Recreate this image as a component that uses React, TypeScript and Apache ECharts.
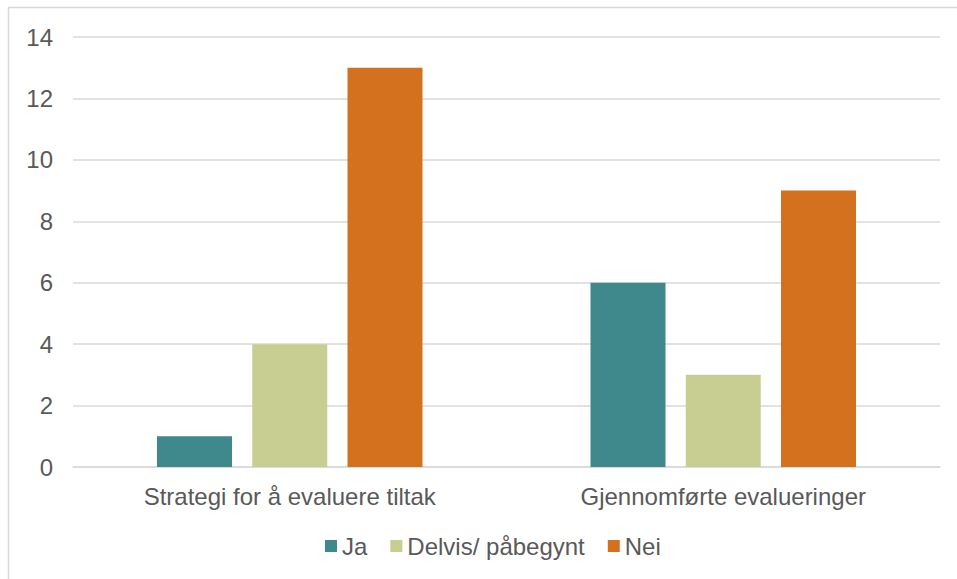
import React, { useEffect, useRef } from "react";
import * as echarts from "echarts";

const categories = ["Strategi for å evaluere tiltak", "Gjennomførte evalueringer"];
const seriesNames = ["Ja", "Delvis/ påbegynt", "Nei"];
const jaValues = [1, 6];
const delvisValues = [4, 3];
const neiValues = [13, 9];
const colors = ["#3F898C", "#C8CE91", "#D4711E"];

export default function App() {
  const ref = useRef<HTMLDivElement>(null);

  useEffect(() => {
    if (!ref.current) return;
    const chart = echarts.init(ref.current, null, { renderer: "svg" });
    const font = "'Liberation Sans', Arial, sans-serif";
    const values = [jaValues, delvisValues, neiValues];
    chart.setOption({
      animation: false,
      backgroundColor: "#ffffff",
      textStyle: { fontFamily: font },
      graphic: [
        {
          type: "rect",
          shape: { x: 8.5, y: 7.5, width: 980, height: 620 },
          style: { fill: "none", stroke: "#D9D9D9", lineWidth: 1.5 },
          silent: true,
        },
      ],
      grid: { left: 73, right: 17, top: 37, bottom: 112 },
      legend: {
        bottom: 16,
        left: 320,
        itemWidth: 12,
        itemHeight: 12,
        itemGap: 23,
        icon: "rect",
        textStyle: { fontSize: 24, color: "#595959", fontFamily: font },
        data: seriesNames,
      },
      xAxis: {
        type: "category",
        data: categories,
        axisLine: { show: true, lineStyle: { color: "#D9D9D9", width: 1.5 } },
        axisTick: { show: false },
        axisLabel: { fontSize: 24, color: "#595959", margin: 17, fontFamily: font },
      },
      yAxis: {
        type: "value",
        min: 0,
        max: 14,
        interval: 2,
        axisLine: { show: false },
        axisTick: { show: false },
        splitLine: { lineStyle: { color: "#D9D9D9", width: 1.5 } },
        axisLabel: { fontSize: 24, color: "#595959", margin: 20, fontFamily: font },
      },
      series: seriesNames.map((name, i) => ({
        name,
        type: "bar",
        data: values[i],
        barWidth: 75,
        barGap: "27%",
        itemStyle: { color: colors[i] },
      })),
    });
    return () => chart.dispose();
  }, []);

  return (
    <div
      ref={ref}
      style={{ position: "absolute", left: 0, top: 0, width: 957, height: 579 }}
    />
  );
}
